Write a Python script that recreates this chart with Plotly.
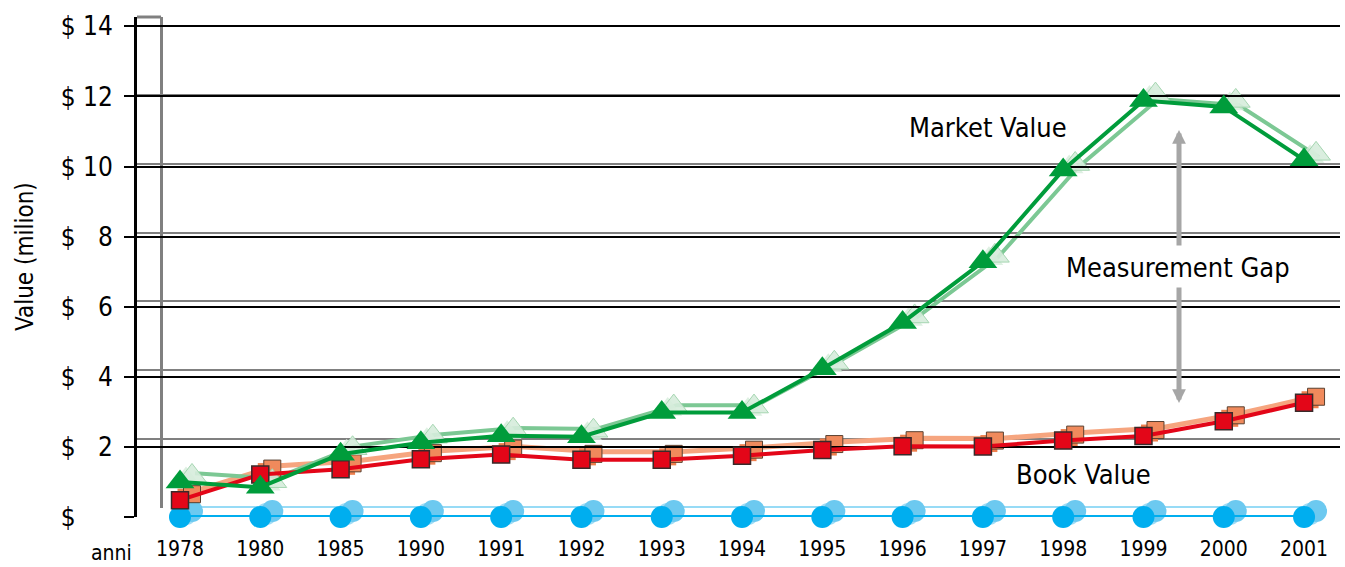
import plotly.graph_objects as go

# ---------------- data ----------------
years = ['1978', '1980', '1985', '1990', '1991', '1992', '1993', '1994',
         '1995', '1996', '1997', '1998', '1999', '2000', '2001']
market_value = [1.0, 0.85, 1.79, 2.12, 2.32, 2.29, 2.98, 2.98,
                4.23, 5.55, 7.28, 9.9, 11.88, 11.7, 10.19]
book_value = [0.48, 1.21, 1.36, 1.65, 1.78, 1.63, 1.63, 1.75,
              1.91, 2.02, 2.01, 2.18, 2.31, 2.73, 3.26]
base_value = [0, 0, 0, 0, 0, 0, 0, 0, 0, 0, 0, 0, 0, 0, 0]
y_tick_vals = [0, 2, 4, 6, 8, 10, 12, 14]
y_tick_text = ['$\u00a0\u00a0\u00a0\u00a0\u00a0', '$\u00a0\u00a0\u00a02', '$\u00a0\u00a0\u00a04',
               '$\u00a0\u00a0\u00a06', '$\u00a0\u00a0\u00a08', '$\u00a010', '$\u00a012', '$\u00a014']

idx = list(range(len(years)))

# ---------------- layout geometry (pixels) ----------------
W, H = 1345, 567
L, R, T, B = 137, 1340, 17, 517
X0, DX = 180.0, 80.29          # pixel of first category, pixels per category
PY = 35.05                      # pixels per $1 million (front plane)

FONT = "Liberation Sans Narrow, Arial Narrow, DejaVu Sans Condensed, sans-serif"


def xr(off):
    return [(L - X0 - off) / DX, (R - X0 - off) / DX]


def yr(off):
    return [-off / PY, (B - T - off) / PY]


fig = go.Figure()

# ---- back plane / shadows (x, y) ----
for vals, col, w in [(base_value, '#74cff3', 3), (book_value, '#f6a57f', 5), (market_value, '#7cc894', 4)]:
    fig.add_trace(go.Scatter(x=idx, y=vals, xaxis='x', yaxis='y', mode='lines', cliponaxis=False,
                             line=dict(color=col, width=w), hoverinfo='skip'))

# ---- intermediate depth (x2, y2) ----
fig.add_trace(go.Scatter(x=idx, y=base_value, xaxis='x2', yaxis='y2', mode='markers', cliponaxis=False,
                         marker=dict(symbol='circle', size=22, color='#9fdcf5'), hoverinfo='skip'))
fig.add_trace(go.Scatter(x=idx, y=book_value, xaxis='x2', yaxis='y2', mode='markers', cliponaxis=False,
                         marker=dict(symbol='square', size=17, color='#ee7f4e'), hoverinfo='skip'))
fig.add_trace(go.Scatter(x=idx, y=market_value, xaxis='x2', yaxis='y2', mode='markers', cliponaxis=False,
                         marker=dict(symbol='triangle-up', size=25, color='rgba(214,236,219,0.8)'),
                         hoverinfo='skip'))

# ---- rear faces of the 3D markers (x3, y3) ----
fig.add_trace(go.Scatter(x=idx, y=base_value, xaxis='x3', yaxis='y3', mode='markers', cliponaxis=False,
                         marker=dict(symbol='circle', size=22, color='#6cc9f0'), hoverinfo='skip'))
fig.add_trace(go.Scatter(x=idx, y=book_value, xaxis='x3', yaxis='y3', mode='markers', cliponaxis=False,
                         marker=dict(symbol='square', size=17, color='#f08a5c',
                                     line=dict(color='#5a4030', width=1)), hoverinfo='skip'))
fig.add_trace(go.Scatter(x=idx, y=market_value, xaxis='x3', yaxis='y3', mode='markers', cliponaxis=False,
                         marker=dict(symbol='triangle-up', size=25, color='rgba(214,236,219,0.9)',
                                     line=dict(color='#a5d6b1', width=1)), hoverinfo='skip'))

# ---- front series (x4, y4) ----
fig.add_trace(go.Scatter(x=idx, y=base_value, xaxis='x4', yaxis='y4', mode='lines+markers', cliponaxis=False,
                         line=dict(color='#00aeef', width=4),
                         marker=dict(symbol='circle', size=22, color='#00aeef'), name='Base'))
fig.add_trace(go.Scatter(x=idx, y=book_value, xaxis='x4', yaxis='y4', mode='lines+markers', cliponaxis=False,
                         line=dict(color='#e30618', width=4),
                         marker=dict(symbol='square', size=17, color='#e30618',
                                     line=dict(color='#3a2a2a', width=1.5)), name='Book Value'))
fig.add_trace(go.Scatter(x=idx, y=market_value, xaxis='x4', yaxis='y4', mode='lines+markers', cliponaxis=False,
                         line=dict(color='#009c3b', width=4),
                         marker=dict(symbol='triangle-up', size=25, color='#009c3b'), name='Market Value'))

hidden_x = dict(showgrid=False, zeroline=False, showline=False, showticklabels=False, ticks='')
hidden_y = dict(showgrid=False, zeroline=False, showline=False, showticklabels=False, ticks='')

fig.update_layout(
    width=W, height=H,
    margin=dict(l=L, r=W - R, t=T, b=H - B, autoexpand=False),
    paper_bgcolor='white', plot_bgcolor='rgba(0,0,0,0)',
    showlegend=False,
    font=dict(family=FONT, color='black'),
    xaxis=dict(range=xr(15), domain=[0, 1], anchor='y', **hidden_x),
    yaxis=dict(range=[0, 14.265], domain=[0.0186, 1], anchor='free', position=0.02,
               showgrid=True, gridcolor='#808080', gridwidth=2, zeroline=False,
               showline=True, linecolor='#808080', linewidth=3,
               showticklabels=False, ticks='', tickvals=y_tick_vals),
    xaxis2=dict(range=xr(6), domain=[0, 1], anchor='y2', **hidden_x),
    yaxis2=dict(range=yr(3), domain=[0, 1], anchor='x2', **hidden_y),
    xaxis3=dict(range=xr(12), domain=[0, 1], anchor='y3', **hidden_x),
    yaxis3=dict(range=yr(6), domain=[0, 1], anchor='x3', **hidden_y),
    xaxis4=dict(range=xr(0), domain=[0, 1], anchor='y4', showgrid=False, zeroline=False,
                showline=False, ticks='', tickmode='array', tickvals=idx, ticktext=years,
                tickfont=dict(size=21, family=FONT), ticklabelstandoff=17),
    yaxis4=dict(range=yr(0), domain=[0, 1], anchor='x4', showgrid=True, gridcolor='black',
                gridwidth=2, zeroline=False, showline=True, linecolor='black', linewidth=3,
                ticks='outside', ticklen=10, tickwidth=2, tickcolor='black',
                tickmode='array', tickvals=y_tick_vals, ticktext=y_tick_text,
                tickfont=dict(size=26, family=FONT), ticklabelstandoff=6),
)

# top cap of the back wall
fig.add_shape(type='line', xref='paper', yref='paper', x0=0, x1=0.02, y0=1, y1=1,
              line=dict(color='#808080', width=3))

arrow_x = (1179 - X0) / DX
arrows = [((517 - 130) / PY, (517 - 247) / PY), ((517 - 403) / PY, (517 - 286) / PY)]
for head, tail in arrows:
    fig.add_annotation(x=arrow_x, y=head, ax=arrow_x, ay=tail, xref='x4', yref='y4',
                       axref='x4', ayref='y4', text='', showarrow=True, arrowhead=2,
                       arrowsize=0.55, arrowwidth=5, arrowcolor='#a6a6a6')

labels = [('Market Value', 988, 127, 27), ('Measurement Gap', 1178, 267, 27), ('Book Value', 1083, 474, 27)]
for txt, px, py, fs in labels:
    fig.add_annotation(x=(px - X0) / DX, y=(517 - py) / PY, xref='x4', yref='y4', text=txt,
                       showarrow=False, font=dict(size=fs, family=FONT, color='black'),
                       xanchor='center', yanchor='middle')

fig.add_annotation(x=(25 - L) / (R - L), y=(B - 256) / (B - T), xref='paper', yref='paper',
                   text='Value (milion)', textangle=-90, showarrow=False,
                   font=dict(size=24, family=FONT, color='black'), xanchor='center', yanchor='middle')
fig.add_annotation(x=(111 - L) / (R - L), y=(B - 553) / (B - T), xref='paper', yref='paper',
                   text='anni', showarrow=False, font=dict(size=21, family=FONT, color='black'),
                   xanchor='center', yanchor='middle')

fig.write_html('out.html')
